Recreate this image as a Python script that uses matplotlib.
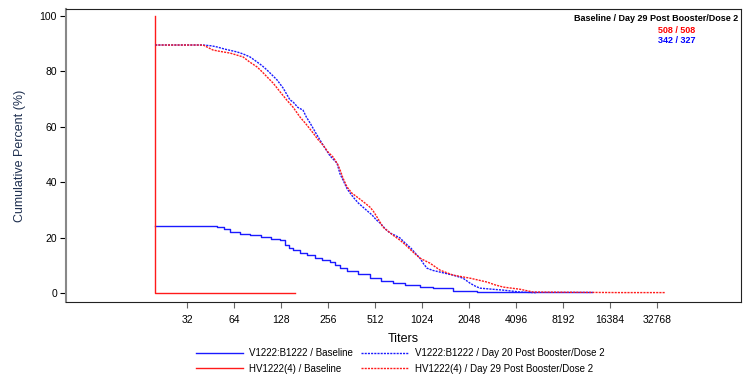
import matplotlib
matplotlib.use("Agg")
import matplotlib.pyplot as plt
from matplotlib.ticker import FixedLocator, NullLocator

plt.rcParams['font.family'] = ['Liberation Sans', 'DejaVu Sans']

# V1222:B1222 / Baseline
blue_base_titer = [20, 44.9, 49.8, 55, 60.3, 70, 81, 95, 110, 126.2, 135, 145, 152.7,
                   170, 187.8, 210, 235, 263.8, 285, 305.5, 340, 400, 475.6, 560,
                   667.5, 800, 994, 1200, 1618, 2304, 12565]
blue_base_pct = [24.2, 24.2, 23.8, 23.0, 22.0, 21.5, 21.0, 20.3, 19.7, 19.0, 17.5, 16.3, 15.5,
                 14.5, 13.7, 12.8, 12.0, 11.2, 10.0, 9.0, 8.0, 6.8, 5.4, 4.5,
                 3.6, 3.0, 2.2, 2.0, 0.8, 0.3, 0.3]

# V1222:B1222 / Day 20 Post Booster/Dose 2
blue_d29_titer = [20, 40.5, 46, 49.8, 56, 66.9, 73, 81, 89.8, 97, 104, 113, 120.7, 131.9,
                  146, 152.7, 164, 177, 186, 196.3, 215, 237.8, 263.8, 292.2, 305.5,
                  319.3, 340, 370, 400, 429, 460, 490, 520, 551, 600, 638.6, 690, 740,
                  800, 870, 940, 994, 1050, 1102, 1200, 1335, 1480, 1618, 1874, 2078,
                  2250, 2408, 2900, 3381, 4346, 5300, 5583]
blue_d29_pct = [89.5, 89.5, 89.2, 88.8, 88.0, 87.0, 86.3, 85.2, 83.4, 82.0, 80.5, 78.5, 76.9, 74.0,
                69.7, 69.0, 67.0, 66.0, 63.5, 61.4, 57.5, 53.4, 49.5, 46.9, 43.0,
                40.8, 37.5, 34.7, 32.5, 31.0, 29.5, 28.2, 26.5, 25.3, 23.0, 21.7, 20.8, 19.9,
                18.0, 16.2, 14.0, 12.6, 10.5, 9.0, 8.2, 7.6, 7.0, 6.5, 5.4, 3.6,
                2.5, 1.8, 1.4, 1.1, 0.4, 0.2, 0.2]

# HV1222(4) / Baseline
red_base_titer = [20, 20, 158]
red_base_pct = [100, 0, 0]

# HV1222(4) / Day 29 Post Booster/Dose 2
red_d29_titer = [20, 40.5, 46.9, 52, 60.3, 73.1, 80, 89.8, 97, 104.1, 113.7, 120.7, 126.2,
                 140, 152.7, 169.4, 185, 205.2, 220, 237.8, 255, 275.6, 295, 305.5, 319,
                 338.7, 365, 392.5, 430, 475.6, 500, 527.6, 576, 667.5, 740, 800, 870,
                 940, 994, 1152, 1335, 1618, 2078, 2670, 3000, 3381, 4346, 5264, 18990, 36900]
red_d29_pct = [89.5, 89.5, 87.7, 87.2, 86.6, 85.2, 83.5, 81.6, 79.8, 78.0, 75.8, 74.0, 72.6,
               69.5, 67.1, 63.5, 61.0, 57.8, 55.5, 53.4, 51.0, 49.1, 46.5, 44.5, 41.5,
               38.3, 36.0, 34.7, 33.0, 31.0, 29.5, 27.4, 23.8, 20.9, 19.1, 17.5, 15.5,
               13.8, 12.6, 10.8, 8.3, 6.5, 5.4, 4.0, 3.0, 2.2, 1.4, 0.4, 0.2, 0.2]

xticks = [32, 64, 128, 256, 512, 1024, 2048, 4096, 8192, 16384, 32768]
yticks = [0, 20, 40, 60, 80, 100]

BLUE = '#1a1aff'
RED = '#ff1a1a'
DOTS = (0, (1.5, 0.8))

fig = plt.figure(figsize=(7.45, 3.9), dpi=100)
ax = fig.add_axes([0.0886, 0.2256, 0.906, 0.7514])

ax.plot(blue_base_titer, blue_base_pct, drawstyle='steps-post', color=BLUE, lw=1,
        label='V1222:B1222 / Baseline')
ax.plot(red_base_titer, red_base_pct, drawstyle='steps-post', color=RED, lw=1,
        label='HV1222(4) / Baseline')
ax.plot(blue_d29_titer, blue_d29_pct, color=BLUE, lw=1, ls=DOTS,
        label='V1222:B1222 / Day 20 Post Booster/Dose 2')
ax.plot(red_d29_titer, red_d29_pct, color=RED, lw=1, ls=DOTS,
        label='HV1222(4) / Day 29 Post Booster/Dose 2')

ax.set_xscale('log', base=2)
ax.set_xlim(5.37, 113000)
ax.set_ylim(-3.2, 102.5)
ax.xaxis.set_major_locator(FixedLocator(xticks))
ax.xaxis.set_minor_locator(NullLocator())
ax.set_xticklabels([str(t) for t in xticks])
ax.set_yticks(yticks)
ax.tick_params(axis='both', labelsize=7.5, length=4, width=0.8, direction='out')
ax.tick_params(axis='x', color='#666666', pad=5)
ax.tick_params(axis='y', pad=2.5)

for s in ['top', 'right', 'bottom']:
    ax.spines[s].set_color('#222222')
    ax.spines[s].set_linewidth(0.8)
ax.spines['left'].set_color('#888888')
ax.spines['left'].set_linewidth(1.5)

ax.set_xlabel('Titers', fontsize=9, labelpad=6)
ax.set_ylabel('Cumulative Percent (%)', fontsize=9, color='#1f3050', labelpad=10)

ax.text(0.9956, 0.966, 'Baseline / Day 29 Post Booster/Dose 2', transform=ax.transAxes,
        ha='right', va='center', fontsize=6.5, fontweight='bold')
ax.text(0.905, 0.928, '508 / 508', transform=ax.transAxes, ha='center', va='center',
        fontsize=6.5, fontweight='bold', color='red')
ax.text(0.905, 0.891, '342 / 327', transform=ax.transAxes, ha='center', va='center',
        fontsize=6.5, fontweight='bold', color='blue')

fig.legend(loc='upper center', bbox_to_anchor=(0.537, 0.12), ncol=2, frameon=False,
           fontsize=7, handlelength=4.8, handletextpad=0.7, columnspacing=0.8,
           labelspacing=0.6, borderpad=0)

fig.savefig('out.png', dpi=100)
